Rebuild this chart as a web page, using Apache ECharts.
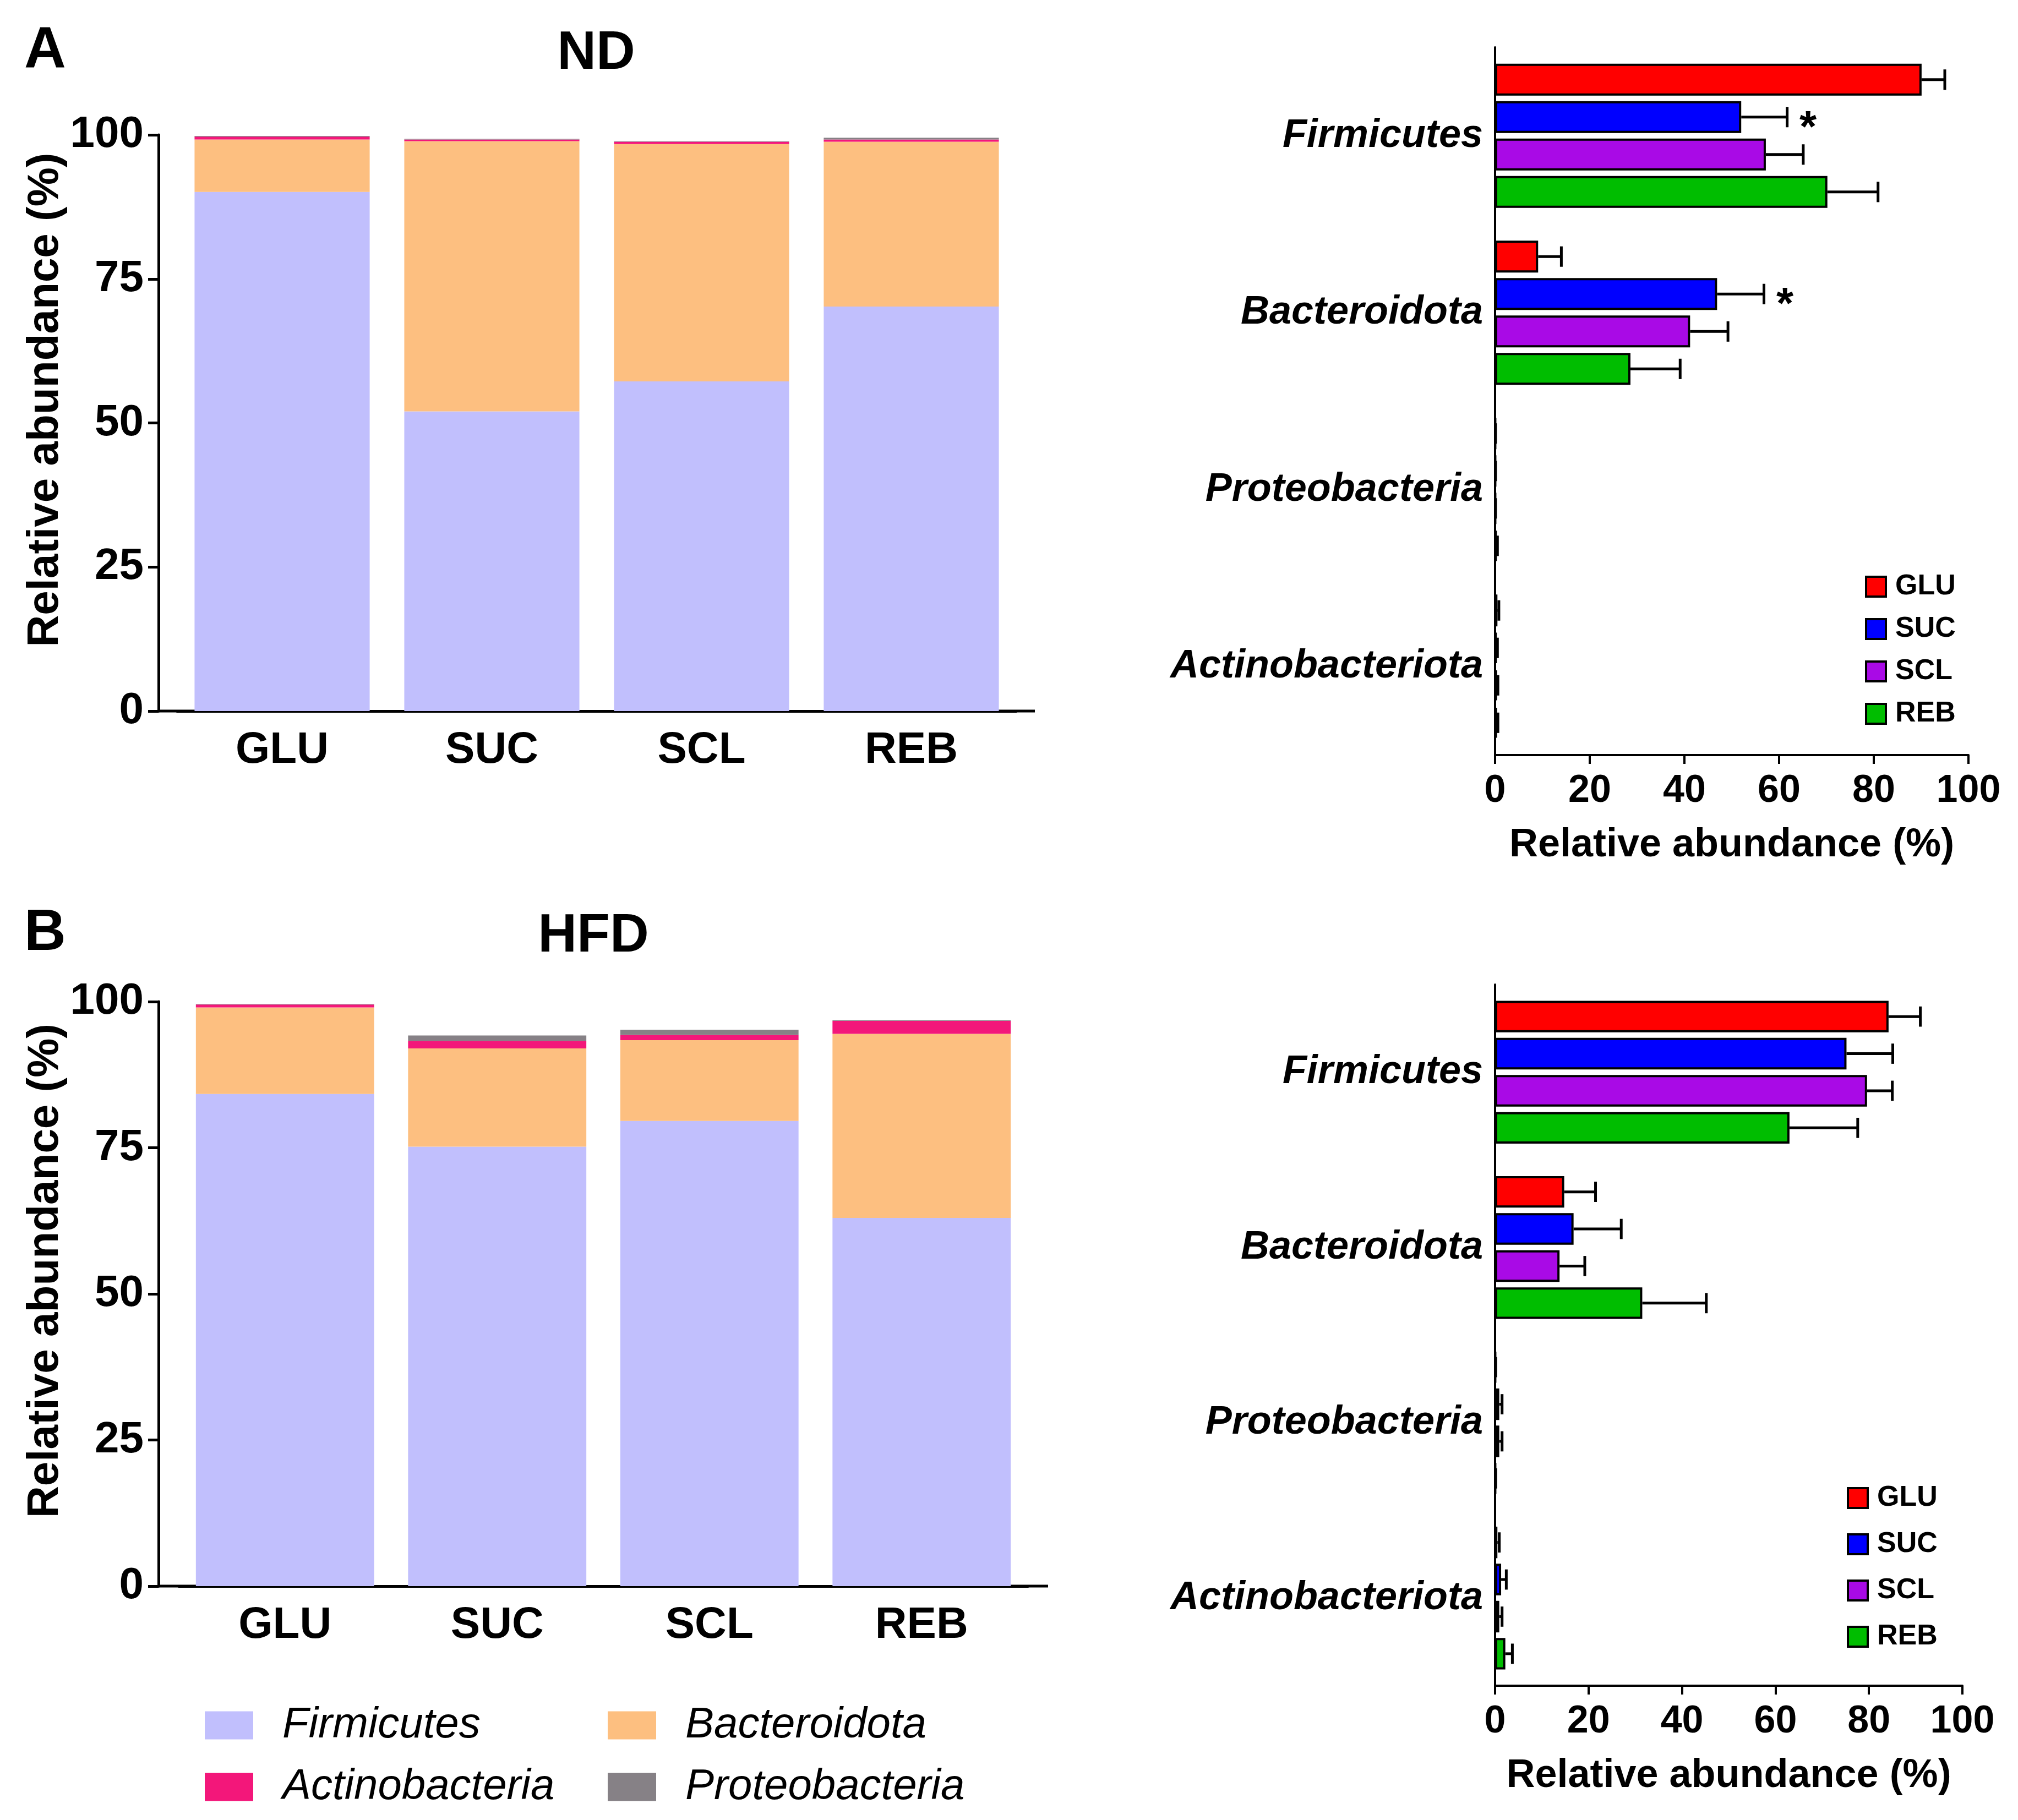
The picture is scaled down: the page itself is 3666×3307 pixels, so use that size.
<!DOCTYPE html>
<html>
<head>
    <meta charset="utf-8">
    <title>relative abundance</title>
    <script src="https://cdn.jsdelivr.net/npm/echarts@6.0.0/dist/echarts.min.js"></script>
    <style>
        html, body {
            margin: 0;
            padding: 0;
            background: #fff;
        }
        #main {
            width: 3666px;
            height: 3307px;
        }
    </style>
</head>
<body>
<div id="main"></div>

<script>
    // groups and phyla
    var groups = ['GLU', 'SUC', 'SCL', 'REB'];
    var phyla = ['Firmicutes', 'Bacteroidota', 'Proteobacteria', 'Actinobacteriota'];
    var stackNames = ['Firmicutes', 'Bacteroidota', 'Actinobacteria', 'Proteobacteria'];
    var panelTitles = ['ND', 'HFD'];
    var panelLetters = ['A', 'B'];
    var stackTicks = [0, 25, 50, 75, 100];
    var barTicks = [0, 20, 40, 60, 80, 100];

    // ND, mean relative abundance (%) per group
    var ndFirm = [90.1, 52.0, 57.2, 70.2];
    var ndBact = [9.1, 46.9, 41.2, 28.6];
    var ndActino = [0.5, 0.3, 0.4, 0.4];
    var ndProteo = [0.1, 0.1, 0.1, 0.3];
    // ND, error bars
    var ndFirmErr = [4.9, 9.7, 7.9, 10.7];
    var ndBactErr = [4.9, 9.9, 8.0, 10.5];
    var ndActinoErr = [0.3, 0.2, 0.2, 0.2];
    var ndProteoErr = [0.0, 0.0, 0.0, 0.2];
    var ndFirmSig = ['', '*', '', ''];
    var ndBactSig = ['', '*', '', ''];

    // HFD, mean relative abundance (%) per group
    var hfdFirm = [84.2, 75.2, 79.6, 63.0];
    var hfdBact = [14.8, 16.8, 13.8, 31.5];
    var hfdActino = [0.5, 1.3, 0.9, 2.2];
    var hfdProteo = [0.1, 0.9, 0.9, 0.1];
    // HFD, error bars
    var hfdFirmErr = [6.8, 9.9, 5.4, 14.6];
    var hfdBactErr = [6.7, 10.2, 5.4, 13.7];
    var hfdActinoErr = [0.4, 1.1, 0.6, 1.5];
    var hfdProteoErr = [0.05, 0.6, 0.6, 0.05];
    var hfdFirmSig = ['', '', '', ''];
    var hfdBactSig = ['', '', '', ''];

    var stackColors = ['#C1BFFD', '#FDBF80', '#F3177A', '#868186'];
    var groupColors = ['#FF0000', '#0000FF', '#A90AE6', '#00BD00'];

    var narrow = '"Liberation Sans Narrow", "Arial Narrow", "Liberation Sans", Arial, sans-serif';
    var sans = '"Liberation Sans", Arial, Helvetica, sans-serif';

    var CAT_GAP = 0.185;
    var BAR_GAP = 0.175;

    var panels = [
        {firm: ndFirm, bact: ndBact, actino: ndActino, proteo: ndProteo,
         firmErr: ndFirmErr, bactErr: ndBactErr, actinoErr: ndActinoErr, proteoErr: ndProteoErr,
         firmSig: ndFirmSig, bactSig: ndBactSig},
        {firm: hfdFirm, bact: hfdBact, actino: hfdActino, proteo: hfdProteo,
         firmErr: hfdFirmErr, bactErr: hfdBactErr, actinoErr: hfdActinoErr, proteoErr: hfdProteoErr,
         firmSig: hfdFirmSig, bactSig: hfdBactSig}
    ];

    // left grids are narrower than their axes: y axis pushed out with offset,
    // x axis line stretched with end caps (GraphPad style padding)
    var leftAxisPad = [34, 37];
    var leftCatGap = ['16.5%', '16%'];

    var grids = [
        {left: 322, top: 245, width: 1524, height: 1047},
        {left: 325, top: 1820, width: 1542, height: 1062},
        {left: 2716, top: 86, width: 860, height: 1286},
        {left: 2716, top: 1789, width: 849, height: 1274}
    ];
    grids.forEach(function (g) { g.outerBoundsMode = 'none'; });

    var xAxes = [], yAxes = [], series = [];

    for (var p = 0; p < 2; p++) {
        // left panel: stacked composition
        xAxes.push({
            type: 'category', gridIndex: p, data: groups,
            axisLine: {
                lineStyle: {color: '#000', width: 5},
                symbol: ['rect', 'rect'], symbolSize: [5, leftAxisPad[p] * 2]
            },
            axisTick: {alignWithLabel: true, length: 25, lineStyle: {color: '#000', width: 5}},
            axisLabel: {color: '#000', fontFamily: narrow, fontWeight: 'bold', fontSize: 80, margin: 32}
        });
        yAxes.push({
            type: 'value', gridIndex: p, offset: leftAxisPad[p],
            min: stackTicks[0], max: stackTicks[stackTicks.length - 1], interval: stackTicks[1] - stackTicks[0],
            axisLine: {show: true, lineStyle: {color: '#000', width: 5}},
            axisTick: {show: true, length: 19, lineStyle: {color: '#000', width: 5}},
            splitLine: {show: false},
            axisLabel: {color: '#000', fontFamily: narrow, fontWeight: 'bold', fontSize: 80, margin: 27},
            name: 'Relative abundance (%)', nameLocation: 'middle', nameGap: 165,
            nameTextStyle: {color: '#000', fontFamily: sans, fontWeight: 'bold', fontSize: 80, padding: [0, 0, 0, 84]}
        });
    }
    for (p = 0; p < 2; p++) {
        // right panel: per phylum means
        xAxes.push({
            type: 'value', gridIndex: 2 + p,
            min: barTicks[0], max: barTicks[barTicks.length - 1], interval: barTicks[1] - barTicks[0],
            axisLine: {show: true, lineStyle: {color: '#000', width: 4}},
            axisTick: {show: true, length: 16, lineStyle: {color: '#000', width: 4}},
            splitLine: {show: false},
            axisLabel: {color: '#000', fontFamily: sans, fontWeight: 'bold', fontSize: 70, margin: 31},
            name: 'Relative abundance (%)', nameLocation: 'middle', nameGap: 128,
            nameTextStyle: {color: '#000', fontFamily: sans, fontWeight: 'bold', fontSize: 72}
        });
        yAxes.push({
            type: 'category', gridIndex: 2 + p, data: phyla, inverse: true,
            axisLine: {lineStyle: {color: '#000', width: 4}},
            axisTick: {alignWithLabel: true, length: 20, lineStyle: {color: '#000', width: 4}},
            axisLabel: {color: '#000', fontFamily: sans, fontWeight: 'bold', fontStyle: 'italic', fontSize: 72, margin: 22}
        });
    }

    panels.forEach(function (d, p) {
        var stacks = [d.firm, d.bact, d.actino, d.proteo];
        stacks.forEach(function (vals, k) {
            series.push({
                type: 'bar', name: stackNames[k], xAxisIndex: p, yAxisIndex: p,
                stack: 'comp' + p, data: vals, barCategoryGap: leftCatGap[p],
                itemStyle: {color: stackColors[k]}
            });
        });

        // one bar series per group, phyla in order Firmicutes..Actinobacteriota
        var errItems = [];
        var sigs = [];
        groups.forEach(function (gname, g) {
            var means = [d.firm[g], d.bact[g], d.proteo[g], d.actino[g]];
            var errs = [d.firmErr[g], d.bactErr[g], d.proteoErr[g], d.actinoErr[g]];
            var sg = [d.firmSig[g], d.bactSig[g], '', ''];
            series.push({
                type: 'bar', name: gname, xAxisIndex: 2 + p, yAxisIndex: 2 + p,
                data: means, barGap: (BAR_GAP * 100) + '%', barCategoryGap: (CAT_GAP * 100) + '%',
                itemStyle: {color: groupColors[g], borderColor: '#000', borderWidth: 4}
            });
            for (var c = 0; c < 4; c++) {
                errItems.push([c, g, means[c], errs[c]]);
                sigs.push(sg[c]);
            }
        });

        series.push({
            type: 'custom', xAxisIndex: 2 + p, yAxisIndex: 2 + p, z: 5,
            data: errItems,
            encode: {x: 2, y: 0},
            renderItem: function (params, api) {
                var cat = api.value(0), g = api.value(1), mean = api.value(2), err = api.value(3);
                var band = api.size([0, 1])[1];
                var groupH = band * (1 - CAT_GAP);
                var barH = groupH / (4 + 3 * BAR_GAP);
                var base = api.coord([mean, cat]);
                var yc = base[1] - groupH / 2 + g * barH * (1 + BAR_GAP) + barH / 2;
                var xe = api.coord([mean + err, cat])[0];
                var cap = barH * 0.32;
                var line = {stroke: '#000', lineWidth: 5};
                var kids = [
                    {type: 'line', shape: {x1: base[0], y1: yc, x2: xe, y2: yc}, style: line},
                    {type: 'line', shape: {x1: xe, y1: yc - cap, x2: xe, y2: yc + cap}, style: line}
                ];
                var s = sigs[params.dataIndex];
                if (s) {
                    kids.push({
                        type: 'text', x: xe + 38, y: yc + 22,
                        style: {text: s, fill: '#000', fontFamily: sans, fontWeight: 'bold', fontSize: 80,
                                align: 'center', verticalAlign: 'middle'}
                    });
                }
                return {type: 'group', children: kids};
            }
        });
    });

    var option = {
        animation: false,
        backgroundColor: '#fff',
        grid: grids,
        xAxis: xAxes,
        yAxis: yAxes,
        legend: [
            {
                data: [stackNames[0], stackNames[2]], orient: 'vertical', left: 367, top: 3091,
                icon: 'rect', itemWidth: 88, itemHeight: 51, itemGap: 34, selectedMode: false,
                itemStyle: {borderWidth: 0},
                textStyle: {color: '#000', fontFamily: sans, fontStyle: 'italic', fontSize: 78, lineHeight: 78, padding: [0, 0, 0, 48]}
            },
            {
                data: [stackNames[1], stackNames[3]], orient: 'vertical', left: 1099, top: 3091,
                icon: 'rect', itemWidth: 88, itemHeight: 51, itemGap: 34, selectedMode: false,
                itemStyle: {borderWidth: 0},
                textStyle: {color: '#000', fontFamily: sans, fontStyle: 'italic', fontSize: 78, lineHeight: 78, padding: [0, 0, 0, 48]}
            },
            {
                data: groups, orient: 'vertical', left: 3383, top: 1035,
                icon: 'rect', itemWidth: 36, itemHeight: 36, itemGap: 25, selectedMode: false,
                itemStyle: {borderColor: '#000', borderWidth: 4},
                textStyle: {color: '#000', fontFamily: sans, fontWeight: 'bold', fontSize: 52, lineHeight: 52, padding: [0, 0, 0, 12]}
            },
            {
                data: groups, orient: 'vertical', left: 3350, top: 2691,
                icon: 'rect', itemWidth: 36, itemHeight: 36, itemGap: 32, selectedMode: false,
                itemStyle: {borderColor: '#000', borderWidth: 4},
                textStyle: {color: '#000', fontFamily: sans, fontWeight: 'bold', fontSize: 52, lineHeight: 52, padding: [0, 0, 0, 12]}
            }
        ],
        graphic: [
            {type: 'text', x: 82, y: 94, style: {text: panelLetters[0], fill: '#000', fontFamily: sans, fontWeight: 'bold', fontSize: 105, align: 'center', verticalAlign: 'middle'}},
            {type: 'text', x: 1083, y: 98, style: {text: panelTitles[0], fill: '#000', fontFamily: sans, fontWeight: 'bold', fontSize: 98, align: 'center', verticalAlign: 'middle'}},
            {type: 'text', x: 82, y: 1697, style: {text: panelLetters[1], fill: '#000', fontFamily: sans, fontWeight: 'bold', fontSize: 105, align: 'center', verticalAlign: 'middle'}},
            {type: 'text', x: 1078, y: 1702, style: {text: panelTitles[1], fill: '#000', fontFamily: sans, fontWeight: 'bold', fontSize: 98, align: 'center', verticalAlign: 'middle'}}
        ],
        series: series
    };

    var chart = echarts.init(document.getElementById('main'));
    chart.setOption(option);
</script>
</body>
</html>
